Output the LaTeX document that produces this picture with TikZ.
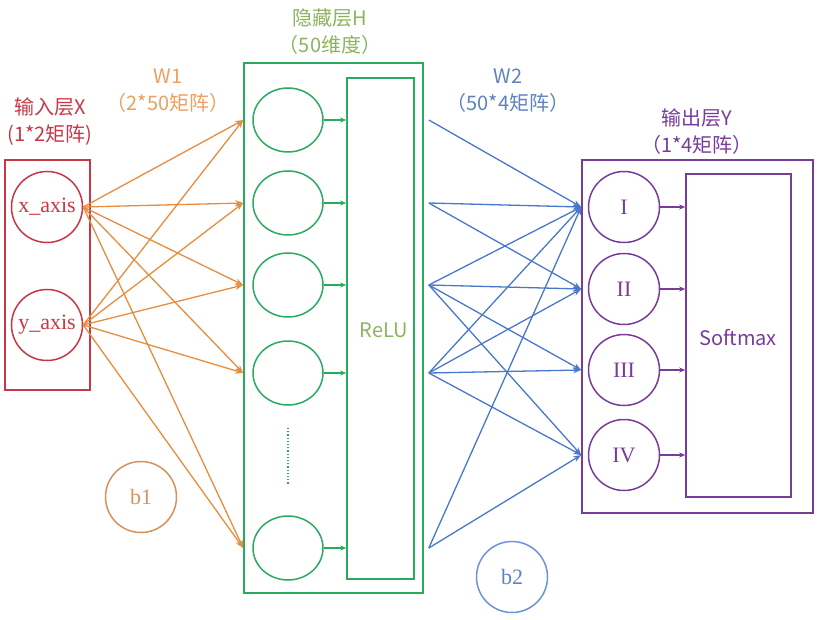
\documentclass[tikz,border=0pt]{standalone}
\usepackage{fontspec}
\setmainfont{Liberation Serif}
\newfontfamily\cjk{Noto Sans CJK SC}
\usetikzlibrary{arrows.meta}
\usetikzlibrary{positioning}
\usetikzlibrary{shapes.geometric}

\definecolor{inred}{RGB}{200,55,70}
\definecolor{wone}{RGB}{232,140,62}
\definecolor{wonetext}{RGB}{236,160,95}
\definecolor{bone}{RGB}{215,145,90}
\definecolor{hidgreen}{RGB}{40,170,95}
\definecolor{hidtext}{RGB}{140,180,95}
\definecolor{wtwo}{RGB}{72,120,205}
\definecolor{wtwotext}{RGB}{95,130,190}
\definecolor{outpurple}{RGB}{120,60,155}

\begin{document}
\begin{tikzpicture}[x=1pt,y=-1pt]
\useasboundingbox (0,0) rectangle (832,620);

% layer boxes
\begin{scope}[every node/.style={line width=1.6pt,draw,rectangle,inner sep=0pt}]
    \node[draw=inred,minimum width=85pt,minimum height=230pt]      (inbox)   at (47.5,275)  {};
    \node[draw=hidgreen,minimum width=179pt,minimum height=530pt]  (hidbox)  at (333.5,328) {};
    \node[draw=hidgreen,minimum width=67pt,minimum height=501pt]   (relu)    at (380.5,328.5) {};
    \node[draw=outpurple,minimum width=231pt,minimum height=353pt] (outbox)  at (697.5,336.5) {};
    \node[draw=outpurple,minimum width=105pt,minimum height=323pt] (softmax) at (738.5,335.5) {};
\end{scope}

% neurons
\begin{scope}[every node/.style={line width=1.5pt,draw,circle,minimum size=71pt,inner sep=0pt,
                                 font=\fontsize{22}{22}\selectfont}]
    \node[draw=inred,text=inred]          (xaxis) at (47,207)  {x\_axis};
    \node[draw=inred,text=inred]          (yaxis) at (47,325)  {y\_axis};
    \node[draw=bone,text=bone]            (bone)  at (141,497) {b1};
    \node[draw=wtwo!80,text=wtwotext]     (btwo)  at (512,577) {b2};
    \node[draw=outpurple,text=outpurple]  (out1)  at (624,207) {I};
    \node[draw=outpurple,text=outpurple]  (out2)  at (624,289) {II};
    \node[draw=outpurple,text=outpurple]  (out3)  at (624,370) {III};
    \node[draw=outpurple,text=outpurple]  (out4)  at (624,455) {IV};
\end{scope}
\begin{scope}[every node/.style={line width=1.5pt,draw=hidgreen,ellipse,minimum width=70pt,minimum height=64pt}]
    \node (hid1) at (288,120) {};
    \node (hid2) at (288,203) {};
    \node (hid3) at (288,285) {};
    \node (hid4) at (288,373) {};
    \node (hid5) at (288,548) {};
\end{scope}
\draw[hidgreen,line width=1.2pt,dotted] (288,428) -- (288,484);

% texts
\begin{scope}[every node/.style={align=center,font=\cjk\fontsize{20}{27}\selectfont}]
    \node[text=inred]     (intitle)  at (50,122)  {输入层X\\(1*2矩阵)};
    \node[text=wonetext]  (wonelab)  at (168,91)  {W1\\（2*50矩阵）};
    \node[text=hidtext]   (hidtitle) at (330,32)  {隐藏层H\\（50维度）};
    \node[text=wtwotext]  (wtwolab)  at (508,91)  {W2\\（50*4矩阵）};
    \node[text=outpurple] (outtitle) at (697,132) {输出层Y\\（1*4矩阵）};
    \node[text=hidtext]   (relutext) at (384,330) {ReLU};
    \node[text=outpurple] (softtext) at (738,338) {Softmax};
\end{scope}

% connections
\begin{scope}[>={Stealth[length=8pt,width=6pt]},
              every edge/.style={draw,line width=1.3pt}]
    \foreach \h in {1,...,5} {
        \path [->] (xaxis.east) edge[wone] (hidbox.west |- hid\h);
        \path [->] (yaxis.east) edge[wone] (hidbox.west |- hid\h);
        \path [->] (hid\h.east) edge[hidgreen,>={Stealth[length=6pt,width=5pt]}] (relu.west |- hid\h);
        \coordinate (src\h) at ([xshift=5pt]hidbox.east |- hid\h);
    }
    \foreach \s/\o in {1/1, 2/1, 2/2, 3/1, 3/2, 3/3, 3/4, 4/1, 4/2, 4/3, 4/4, 5/1, 5/4}
        \path [->] (src\s) edge[wtwo] (outbox.west |- out\o);
    \foreach \o in {1,...,4}
        \path [->] (out\o.east) edge[outpurple,>={Stealth[length=6pt,width=5pt]}] (softmax.west |- out\o);
\end{scope}
\end{tikzpicture}
\end{document}
